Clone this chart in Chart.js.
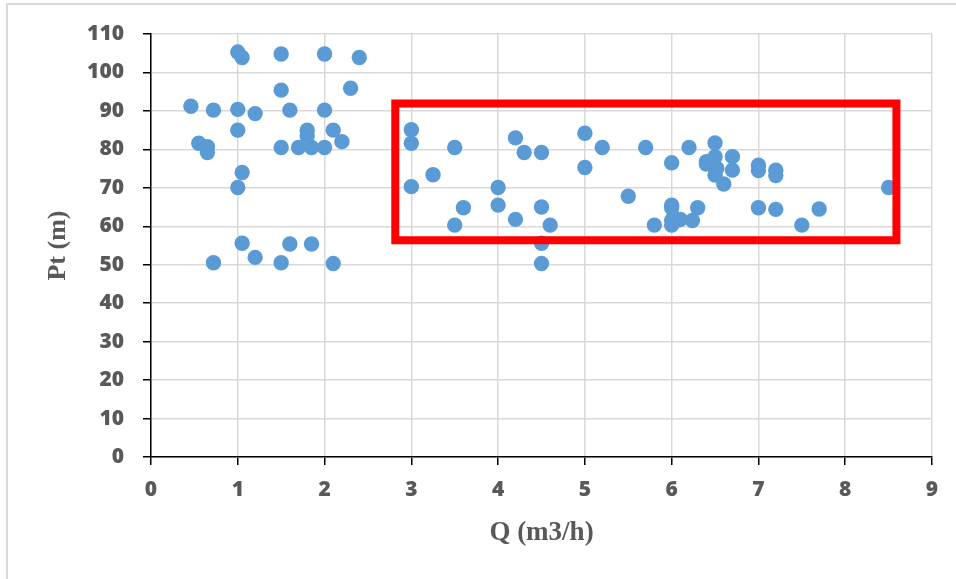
<!DOCTYPE html>
<html>
<head>
<meta charset="utf-8">
<script src="https://cdn.jsdelivr.net/npm/chart.js@4.4.1/dist/chart.umd.min.js"></script>
<style>
  html, body { margin: 0; padding: 0; background: #ffffff; overflow: hidden; }
  #wrap { position: relative; width: 956px; height: 579px; }
  #frame { position: absolute; left: 6px; top: 3px; width: 1000px; height: 700px;
           border-left: 2px solid #d9d9d9; border-top: 2px solid #d9d9d9; pointer-events: none; }
  canvas { position: absolute; left: 0; top: 0; }
</style>
</head>
<body>
<div id="wrap">
  <canvas id="c" width="956" height="579"></canvas>
  <div id="frame"></div>
</div>
<script>
// Q (m3/h) values of the measured points
const qValues = [
  1.0, 1.05, 1.5, 2.0, 2.4,
  1.5, 2.3,
  0.46, 0.72, 1.0, 1.2, 1.6, 2.0,
  1.0, 1.8, 2.1, 1.8,
  2.2, 0.55, 0.65, 0.65,
  1.5, 1.7, 1.85, 2.0,
  1.05, 1.0,
  1.05, 1.6, 1.85, 1.2, 0.72, 1.5, 2.1,
  3.0, 3.0, 3.5, 3.25, 3.0, 3.6, 3.5,
  4.2, 4.3, 4.5, 4.0, 4.0, 4.2, 4.5, 4.6, 4.5, 4.5,
  5.0, 5.0, 5.2, 5.7, 5.5, 5.8,
  6.2, 6.0, 6.5, 6.5, 6.4, 6.4, 6.52, 6.5, 6.6, 6.7, 6.7,
  7.0, 7.0, 7.2, 7.2, 8.5,
  6.0, 6.0, 6.0, 6.07, 6.0, 6.1, 6.3, 6.24,
  7.0, 7.2, 7.5, 7.7
];
// Pt (m) values of the measured points
const ptValues = [
  105.3, 103.9, 104.8, 104.8, 103.9,
  95.4, 95.9,
  91.2, 90.2, 90.4, 89.3, 90.2, 90.2,
  85.0, 85.0, 85.0, 83.5,
  82.0, 81.6, 80.7, 79.2,
  80.5, 80.5, 80.5, 80.5,
  74.0, 70.1,
  55.6, 55.4, 55.4, 51.9, 50.5, 50.5, 50.3,
  85.1, 81.6, 80.5, 73.4, 70.3, 64.8, 60.3,
  83.0, 79.2, 79.2, 70.1, 65.5, 61.8, 65.0, 60.3, 55.6, 50.3,
  84.2, 75.3, 80.5, 80.5, 67.8, 60.3,
  80.5, 76.5, 81.7, 78.1, 76.8, 76.2, 75.1, 73.3, 71.0, 78.1, 74.6,
  75.9, 74.5, 74.6, 73.2, 70.1,
  65.5, 64.8, 61.6, 61.6, 60.3, 61.8, 64.8, 61.5,
  64.8, 64.4, 60.3, 64.5
];
// Highlight rectangle corners (data units)
const rectQ  = [2.815, 8.59, 8.59, 2.815, 2.815, 8.59];
const rectPt = [91.9, 91.9, 56.35, 56.35, 91.9, 91.9];
// Axis ranges
const xTickMin = 0, xTickMax = 9, xStep = 1;
const yTickMin = 0, yTickMax = 110, yStep = 10;

const points = qValues.map((q, i) => ({ x: q, y: ptValues[i] }));
const rect = rectQ.map((q, i) => ({ x: q, y: rectPt[i] }));

const gray = '#595959';
const tickFont = { family: '"Open Sans", Lato, sans-serif', size: 21, weight: 800 };

new Chart(document.getElementById('c'), {
  type: 'scatter',
  data: {
    datasets: [
      {
        label: 'zone',
        data: rect,
        showLine: true,
        borderColor: '#ff0000',
        borderWidth: 8,
        borderJoinStyle: 'miter',
        borderCapStyle: 'square',
        pointRadius: 0,
        pointHoverRadius: 0,
        fill: false,
        order: 0
      },
      {
        label: 'Pt',
        data: points,
        backgroundColor: '#5b9bd5',
        borderColor: '#5b9bd5',
        borderWidth: 0,
        pointRadius: 7.7,
        pointHoverRadius: 7.7,
        order: 1
      }
    ]
  },
  options: {
    responsive: false,
    animation: false,
    devicePixelRatio: 1,
    layout: { padding: { top: 34, right: 24, left: 0, bottom: 0 } },
    plugins: { legend: { display: false }, tooltip: { enabled: false } },
    scales: {
      x: {
        type: 'linear',
        min: xTickMin, max: xTickMax,
        ticks: { stepSize: xStep, color: gray, font: tickFont, padding: 12, maxRotation: 0 },
        grid: { color: '#d9d9d9', lineWidth: 1.5, tickColor: '#000000', tickLength: 8, tickWidth: 1.5 },
        border: { color: '#000000', width: 1.5 },
        title: {
          display: true, text: 'Q (m3/h)', color: gray,
          font: { family: '"Liberation Serif", "Times New Roman", serif', size: 27, weight: 'bold' },
          padding: { top: 0, bottom: 30 }
        },
        afterFit: (s) => { s.height = 122; }
      },
      y: {
        type: 'linear',
        min: yTickMin, max: yTickMax,
        ticks: { stepSize: yStep, color: gray, font: tickFont, padding: 19 },
        grid: { color: '#d9d9d9', lineWidth: 1.5, tickColor: '#000000', tickLength: 8, tickWidth: 1.5 },
        border: { color: '#000000', width: 1.5 },
        title: {
          display: true, text: 'Pt (m)', color: gray,
          font: { family: '"Liberation Serif", "Times New Roman", serif', size: 26, weight: 'bold' },
          padding: { top: 43, bottom: 0 }
        },
        afterFit: (s) => { s.width = 151; }
      }
    }
  }
});
</script>
</body>
</html>
